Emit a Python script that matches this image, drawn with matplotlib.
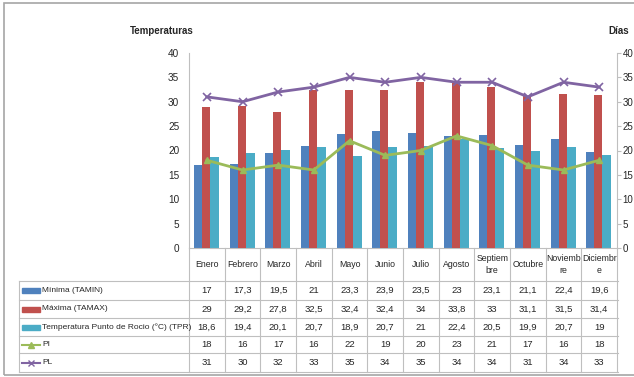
import numpy as np
import matplotlib.pyplot as plt
from matplotlib.transforms import blended_transform_factory
from matplotlib.lines import Line2D
from matplotlib.patches import Rectangle

plt.rcParams['font.family'] = ['Liberation Sans', 'DejaVu Sans']

meses = ['Enero', 'Febrero', 'Marzo', 'Abril', 'Mayo', 'Junio', 'Julio', 'Agosto',
         'Septiem\nbre', 'Octubre', 'Noviemb\nre', 'Diciembr\ne']
tamin = [17, 17.3, 19.5, 21, 23.3, 23.9, 23.5, 23, 23.1, 21.1, 22.4, 19.6]
tamax = [29, 29.2, 27.8, 32.5, 32.4, 32.4, 34, 33.8, 33, 31.1, 31.5, 31.4]
tpr = [18.6, 19.4, 20.1, 20.7, 18.9, 20.7, 21, 22.4, 20.5, 19.9, 20.7, 19]
pi = [18, 16, 17, 16, 22, 19, 20, 23, 21, 17, 16, 18]
pl = [31, 30, 32, 33, 35, 34, 35, 34, 34, 31, 34, 33]

series_names = ['Mínima (TAMIN)', 'Máxima (TAMAX)',
                'Temperatura Punto de Rocio (°C) (TPR)', 'PI', 'PL']

blue, red, cyan = '#4F81BD', '#C0504D', '#4BACC6'
green, purple = '#9BBB59', '#8064A2'
grid_c = '#BFBFBF'
txt_c = '#262626'

W, H = 634, 377
fig = plt.figure(figsize=(6.34, 3.77), dpi=100)


def fx(px):
    return px / W


def fy(py):
    return 1 - py / H


ax = fig.add_axes([fx(189), fy(248), fx(617) - fx(189), fy(53) - fy(248)])
ax2 = ax.twinx()

x = np.arange(len(meses))
ax.bar(x - 0.205, tamin, 0.31, color=blue, zorder=2)
ax.bar(x - 0.02, tamax, 0.225, color=red, zorder=3)
ax.bar(x + 0.215, tpr, 0.25, color=cyan, zorder=2)

ax2.plot(x, pi, color=green, marker='^', ms=5, lw=2)
ax2.plot(x, pl, color=purple, marker='x', ms=6, mew=1.2, lw=2)

for a in (ax, ax2):
    a.set_ylim(0, 40)
    a.set_yticks(range(0, 41, 5))
    a.set_xlim(-0.5, 11.5)
    a.set_xticks([])
    for s in a.spines.values():
        s.set_visible(False)
ax.spines['left'].set_visible(True)
ax.spines['left'].set_color(grid_c)
ax.spines['bottom'].set_visible(True)
ax.spines['bottom'].set_color(grid_c)
ax2.spines['right'].set_visible(True)
ax2.spines['right'].set_color(grid_c)
ax.tick_params(axis='y', length=0, labelsize=7.2, labelcolor=txt_c, pad=7)
ax2.tick_params(axis='y', length=3, color=grid_c, labelsize=7, labelcolor=txt_c, pad=1)

fig.text(fx(130), fy(31), 'Temperaturas', fontsize=7, fontweight='bold',
         color=txt_c, va='center')
fig.text(fx(608), fy(31), 'Días', fontsize=7, fontweight='bold',
         color=txt_c, va='center')

# data table under the plot
tr = blended_transform_factory(ax.transData, fig.transFigure)
row_edges = [281, 300, 318, 336, 353, 372]
for k in range(len(meses) + 1):
    fig.add_artist(Line2D([k - 0.5, k - 0.5], [fy(248), fy(372)], transform=tr,
                          color=grid_c, lw=0.8))
fig.add_artist(Line2D([fx(19), fx(19)], [fy(281), fy(372)], color=grid_c, lw=0.8))
for e in row_edges:
    fig.add_artist(Line2D([fx(19), fx(618)], [fy(e), fy(e)], color=grid_c, lw=0.8))

for i, m in enumerate(meses):
    fig.text(i, fy(264.5), m, transform=tr, ha='center', va='center',
             fontsize=6.3, color=txt_c, linespacing=1.35)

rows = [tamin, tamax, tpr, pi, pl]
for r, vals in enumerate(rows):
    yc = fy((row_edges[r] + row_edges[r + 1]) / 2)
    for i, v in enumerate(vals):
        s = ('%g' % v).replace('.', ',')
        fig.text(i, yc, s, transform=tr, ha='center', va='center',
                 fontsize=6.8, color=txt_c)
    fig.text(fx(42), yc, series_names[r], ha='left', va='center',
             fontsize=6, color=txt_c)

# legend keys
key_cols = [blue, red, cyan]
for r, c in enumerate(key_cols):
    yc = (row_edges[r] + row_edges[r + 1]) / 2
    fig.add_artist(Rectangle((fx(22), fy(yc + 2.5)), fx(40) - fx(22), 5 / H,
                             transform=fig.transFigure, color=c))
for r, (c, mk, ms) in zip([3, 4], [(green, '^', 4), (purple, 'x', 5)]):
    yc = fy((row_edges[r] + row_edges[r + 1]) / 2)
    fig.add_artist(Line2D([fx(22), fx(40)], [yc, yc], color=c, lw=1.5))
    fig.add_artist(Line2D([fx(31)], [yc], color=c, marker=mk, ms=ms, mew=1))

# outer chart border
fig.add_artist(Rectangle((fx(4), fy(375)), 1.0, fy(3) - fy(375),
                         transform=fig.transFigure, fill=False,
                         edgecolor='#A6A6A6', lw=1.2))

fig.savefig('out.png', dpi=100)
